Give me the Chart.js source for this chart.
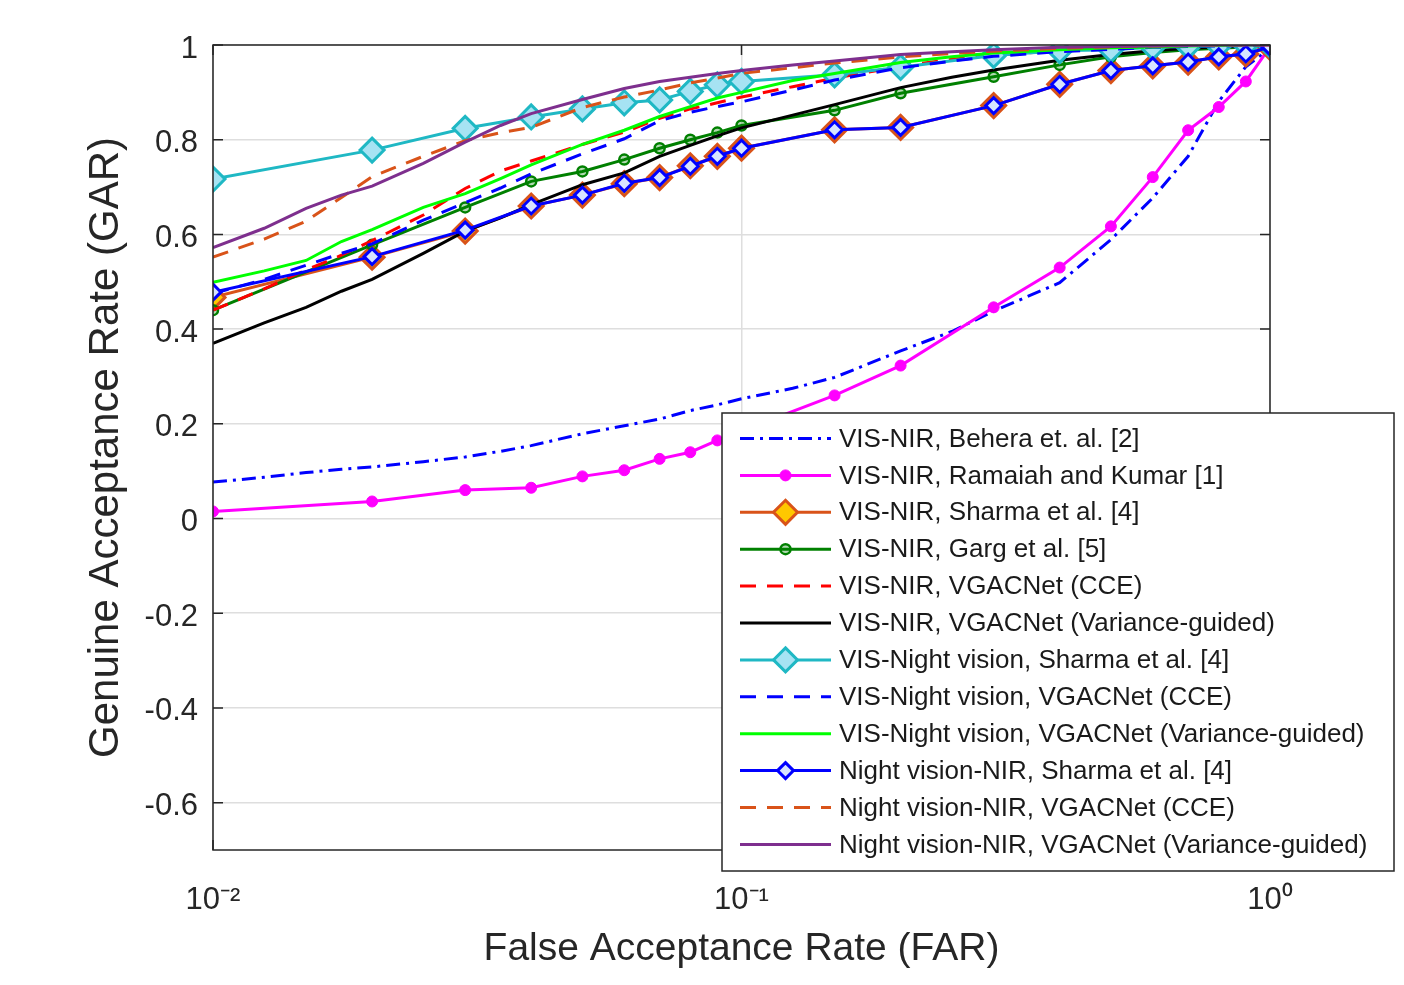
<!DOCTYPE html>
<html>
<head>
<meta charset="utf-8">
<title>GAR vs FAR</title>
<script src="https://cdn.jsdelivr.net/npm/chart.js@4.4.0/dist/chart.umd.min.js"></script>
<style>
  body { margin: 0; background: #fff; }
  #wrap { width: 1404px; height: 985px; }
</style>
</head>
<body>
<div id="wrap"><canvas id="rocChart" width="1404" height="985"></canvas></div>
<script>
// FAR values where the marker curves have points
const farMarks = [0.01, 0.02, 0.03, 0.04, 0.05, 0.06, 0.07, 0.08, 0.09, 0.1, 0.15, 0.2, 0.3, 0.4, 0.5, 0.6, 0.7, 0.8, 0.9, 1]
// FAR values used to trace the dense curves
const farFine = [0.01, 0.0125, 0.015, 0.0175, 0.02, 0.025, 0.03, 0.035, 0.04, 0.05, 0.06, 0.07, 0.08, 0.09, 0.1, 0.125, 0.15, 0.2, 0.25, 0.3, 0.4, 0.5, 0.6, 0.7, 0.8, 0.9, 1]

const beheraGar = [0.077, 0.087, 0.097, 0.104, 0.109, 0.12, 0.13, 0.142, 0.154, 0.179, 0.196, 0.21, 0.228, 0.24, 0.253, 0.275, 0.298, 0.354, 0.395, 0.438, 0.498, 0.589, 0.677, 0.765, 0.881, 0.954, 0.993]
const ramaiahGar = [0.015, 0.036, 0.06, 0.065, 0.089, 0.102, 0.126, 0.14, 0.165, 0.185, 0.26, 0.323, 0.446, 0.53, 0.617, 0.721, 0.82, 0.869, 0.923, 0.996]
const sharmaVisNirGar = [0.467, 0.552, 0.607, 0.66, 0.683, 0.707, 0.72, 0.745, 0.765, 0.782, 0.821, 0.826, 0.872, 0.917, 0.946, 0.956, 0.964, 0.975, 0.981, 0.995]
const gargGar = [0.44, 0.578, 0.657, 0.712, 0.733, 0.758, 0.782, 0.8, 0.815, 0.83, 0.862, 0.898, 0.933, 0.958, 0.975, 0.984, 0.99, 0.993, 0.996, 0.998]
const visNirCceGar = [0.44, 0.485, 0.525, 0.556, 0.587, 0.641, 0.697, 0.734, 0.755, 0.79, 0.816, 0.845, 0.865, 0.878, 0.89, 0.912, 0.93, 0.955, 0.97, 0.978, 0.988, 0.993, 0.996, 0.998, 0.999, 1, 1]
const visNirVarGar = [0.37, 0.413, 0.446, 0.48, 0.505, 0.56, 0.607, 0.635, 0.663, 0.705, 0.73, 0.765, 0.788, 0.808, 0.825, 0.852, 0.874, 0.91, 0.932, 0.947, 0.968, 0.98, 0.988, 0.993, 0.996, 0.998, 1]
const sharmaVisNightGar = [0.717, 0.778, 0.824, 0.848, 0.865, 0.878, 0.884, 0.902, 0.916, 0.923, 0.937, 0.953, 0.978, 0.988, 0.99, 0.995, 0.997, 0.998, 0.999, 1]
const visNightCceGar = [0.475, 0.505, 0.535, 0.56, 0.58, 0.63, 0.667, 0.698, 0.728, 0.77, 0.802, 0.84, 0.858, 0.87, 0.88, 0.905, 0.926, 0.952, 0.966, 0.976, 0.986, 0.991, 0.995, 0.997, 0.998, 0.999, 1]
const visNightVarGar = [0.499, 0.523, 0.545, 0.585, 0.61, 0.657, 0.686, 0.718, 0.747, 0.79, 0.82, 0.849, 0.87, 0.888, 0.9, 0.925, 0.94, 0.963, 0.975, 0.983, 0.99, 0.994, 0.996, 0.998, 0.999, 1, 1]
const sharmaNvNirGar = [0.478, 0.553, 0.609, 0.66, 0.683, 0.708, 0.72, 0.744, 0.765, 0.782, 0.821, 0.826, 0.872, 0.917, 0.946, 0.956, 0.964, 0.975, 0.981, 0.996]
const nvNirCceGar = [0.552, 0.59, 0.628, 0.678, 0.722, 0.765, 0.798, 0.815, 0.826, 0.868, 0.89, 0.905, 0.92, 0.93, 0.94, 0.952, 0.962, 0.975, 0.982, 0.987, 0.993, 0.996, 0.998, 0.999, 1, 1, 1]
const nvNirVarGar = [0.572, 0.613, 0.655, 0.683, 0.702, 0.75, 0.795, 0.83, 0.855, 0.885, 0.908, 0.923, 0.932, 0.94, 0.946, 0.958, 0.966, 0.98, 0.986, 0.99, 0.995, 0.997, 0.998, 0.999, 1, 1, 1]

const xTicks = [0.01, 0.1, 1]
const xTickLabels = ['10\u207B\u00B2', '10\u207B\u00B9', '10\u2070']
const yTicks = [-0.6, -0.4, -0.2, 0, 0.2, 0.4, 0.6, 0.8, 1]
const yTickLabels = ['-0.6', '-0.4', '-0.2', '0', '0.2', '0.4', '0.6', '0.8', '1']

function pts(xs, ys) {
    return xs.map(function(x, i) { return { x: x, y: ys[i] } })
}

function line(label, xs, ys, color, extra) {
    return Object.assign({
        label: label,
        data: pts(xs, ys),
        borderColor: color,
        backgroundColor: color,
        borderWidth: 3,
        pointRadius: 0,
        pointHoverRadius: 0,
        tension: 0,
        fill: false
    }, extra || {})
}

const datasets = [
    line('VIS-NIR, Behera et. al. [2]', farFine, beheraGar, '#0000ff', { borderDash: [14, 6, 3, 6] }),
    line('VIS-NIR, Ramaiah and Kumar [1]', farMarks, ramaiahGar, '#ff00ff', { pointRadius: 5.5, pointStyle: 'circle', pointBackgroundColor: '#ff00ff', pointBorderColor: '#ff00ff', pointBorderWidth: 1 }),
    line('VIS-NIR, Sharma et al. [4]', farMarks, sharmaVisNirGar, '#d95319', { pointRadius: 12, pointStyle: 'rectRot', pointBackgroundColor: '#ffc800', pointBorderColor: '#d95319', pointBorderWidth: 3 }),
    line('VIS-NIR, Garg et al. [5]', farMarks, gargGar, '#008000', { pointRadius: 5, pointStyle: 'circle', pointBackgroundColor: 'rgba(0,128,0,0.3)', pointBorderColor: '#008000', pointBorderWidth: 2.5 }),
    line('VIS-NIR, VGACNet (CCE)', farFine, visNirCceGar, '#ff0000', { borderDash: [16, 11] }),
    line('VIS-NIR, VGACNet (Variance-guided)', farFine, visNirVarGar, '#000000'),
    line('VIS-Night vision, Sharma et al. [4]', farMarks, sharmaVisNightGar, '#1fb8c4', { pointRadius: 12, pointStyle: 'rectRot', pointBackgroundColor: '#a6e3f3', pointBorderColor: '#1fb8c4', pointBorderWidth: 3 }),
    line('VIS-Night vision, VGACNet (CCE)', farFine, visNightCceGar, '#0000ff', { borderDash: [16, 11] }),
    line('VIS-Night vision, VGACNet (Variance-guided)', farFine, visNightVarGar, '#00ff00'),
    line('Night vision-NIR, Sharma et al. [4]', farMarks, sharmaNvNirGar, '#0000ff', { pointRadius: 8, pointStyle: 'rectRot', pointBackgroundColor: '#d8e4ff', pointBorderColor: '#0000ff', pointBorderWidth: 3 }),
    line('Night vision-NIR, VGACNet (CCE)', farFine, nvNirCceGar, '#d95319', { borderDash: [16, 11] }),
    line('Night vision-NIR, VGACNet (Variance-guided)', farFine, nvNirVarGar, '#7e2f8e')
]
// later series on top, like the original plot
datasets.forEach(function(ds, i) { ds.order = datasets.length - i })

const axisColor = '#262626'
const tickFont = { family: 'Liberation Sans, Arial, sans-serif', size: 31 }

function drawMarker(ctx, style, x, y, r, fill, stroke, bw) {
    if (!r) return
    ctx.save()
    ctx.setLineDash([])
    ctx.beginPath()
    if (style === 'rectRot') {
        ctx.moveTo(x, y - r)
        ctx.lineTo(x + r, y)
        ctx.lineTo(x, y + r)
        ctx.lineTo(x - r, y)
        ctx.closePath()
    } else {
        ctx.arc(x, y, r, 0, Math.PI * 2)
    }
    ctx.fillStyle = fill
    ctx.fill()
    ctx.lineWidth = bw
    ctx.strokeStyle = stroke
    ctx.stroke()
    ctx.restore()
}

// box around the axes with inward ticks
const boxPlugin = {
    id: 'axesBox',
    afterDatasetsDraw(chart) {
        const ctx = chart.ctx
        const a = chart.chartArea
        const xs = chart.scales.x, ys = chart.scales.y
        ctx.save()
        ctx.strokeStyle = axisColor
        ctx.lineWidth = 1.5
        ctx.strokeRect(a.left, a.top, a.right - a.left, a.bottom - a.top)
        ctx.beginPath()
        yTicks.forEach(function(v) {
            const py = ys.getPixelForValue(v)
            ctx.moveTo(a.left, py); ctx.lineTo(a.left + 10, py)
            ctx.moveTo(a.right, py); ctx.lineTo(a.right - 10, py)
        })
        xTicks.forEach(function(v) {
            const px = xs.getPixelForValue(v)
            ctx.moveTo(px, a.bottom); ctx.lineTo(px, a.bottom - 10)
            ctx.moveTo(px, a.top); ctx.lineTo(px, a.top + 10)
        })
        ctx.stroke()
        ctx.restore()
    }
}

const legendPlugin = {
    id: 'boxLegend',
    afterDraw(chart) {
        const ctx = chart.ctx
        const left = 722, top = 413, width = 672, height = 458
        const rowStart = 438.5, rowStep = 36.9
        ctx.save()
        ctx.fillStyle = '#ffffff'
        ctx.fillRect(left, top, width, height)
        ctx.strokeStyle = axisColor
        ctx.lineWidth = 1.5
        ctx.strokeRect(left, top, width, height)
        ctx.font = '26px Liberation Sans, Arial, sans-serif'
        ctx.textBaseline = 'middle'
        chart.data.datasets.forEach(function(ds, i) {
            const y = rowStart + i * rowStep
            ctx.beginPath()
            ctx.setLineDash(ds.borderDash || [])
            ctx.strokeStyle = ds.borderColor
            ctx.lineWidth = ds.borderWidth
            ctx.moveTo(740, y)
            ctx.lineTo(831, y)
            ctx.stroke()
            ctx.setLineDash([])
            drawMarker(ctx, ds.pointStyle, 785.5, y, ds.pointRadius, ds.pointBackgroundColor, ds.pointBorderColor, ds.pointBorderWidth)
            ctx.fillStyle = '#1a1a1a'
            ctx.fillText(ds.label, 839, y + 1)
        })
        ctx.restore()
    }
}

const ctx = document.getElementById('rocChart').getContext('2d')
const rocChart = new Chart(ctx, {
    type: 'line',
    data: { datasets: datasets },
    options: {
        responsive: false,
        animation: false,
        layout: { padding: { top: 45, right: 134, left: 0, bottom: 0 } },
        plugins: {
            legend: { display: false },
            tooltip: { enabled: false }
        },
        scales: {
            x: {
                type: 'logarithmic',
                min: 0.01,
                max: 1,
                afterBuildTicks: function(scale) { scale.ticks = xTicks.map(function(v) { return { value: v } }) },
                afterFit: function(scale) { scale.height = 135 },
                ticks: {
                    autoSkip: false,
                    maxRotation: 0,
                    padding: 32,
                    color: axisColor,
                    font: tickFont,
                    callback: function(value, index) { return xTickLabels[index] }
                },
                grid: { color: '#dedede', lineWidth: 1.5, drawTicks: false },
                border: { display: false },
                title: {
                    display: true,
                    text: 'False Acceptance Rate (FAR)',
                    color: axisColor,
                    font: { family: 'Liberation Sans, Arial, sans-serif', size: 39 },
                    padding: { bottom: 12 }
                }
            },
            y: {
                type: 'linear',
                min: -0.7,
                max: 1,
                afterBuildTicks: function(scale) { scale.ticks = yTicks.map(function(v) { return { value: v } }) },
                afterFit: function(scale) { scale.width = 213 },
                ticks: {
                    padding: 15,
                    labelOffset: 4,
                    color: axisColor,
                    font: tickFont,
                    callback: function(value, index) { return yTickLabels[index] }
                },
                grid: { color: '#dedede', lineWidth: 1.5, drawTicks: false },
                border: { display: false },
                title: {
                    display: true,
                    text: 'Genuine Acceptance Rate (GAR)',
                    color: axisColor,
                    font: { family: 'Liberation Sans, Arial, sans-serif', size: 42 },
                    padding: { top: 81 }
                }
            }
        }
    },
    plugins: [boxPlugin, legendPlugin]
})
</script>
</body>
</html>
